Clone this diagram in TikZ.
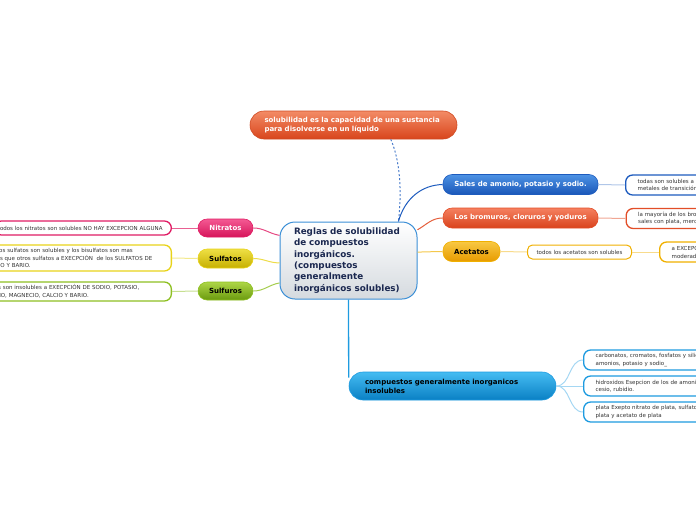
\documentclass[tikz,border=0pt]{standalone}
\usepackage{fontspec}
\setmainfont{DejaVu Sans}
\hyphenpenalty=10000
\exhyphenpenalty=10000
\definecolor{topA}{HTML}{F38B66}
\definecolor{topB}{HTML}{D8451C}
\definecolor{topD}{HTML}{D04A22}
\definecolor{cenB}{HTML}{D5DADF}
\definecolor{cenD}{HTML}{3B8FD6}
\definecolor{navy}{HTML}{1B2850}
\definecolor{blA}{HTML}{4D92E4}
\definecolor{blB}{HTML}{1A56B8}
\definecolor{blD}{HTML}{1D5BBE}
\definecolor{orA}{HTML}{F58060}
\definecolor{orB}{HTML}{D9431C}
\definecolor{orD}{HTML}{E24E28}
\definecolor{yeA}{HTML}{F8C843}
\definecolor{yeB}{HTML}{E79B00}
\definecolor{yeD}{HTML}{F0B000}
\definecolor{piA}{HTML}{F45A93}
\definecolor{piB}{HTML}{D6145A}
\definecolor{piD}{HTML}{E01C64}
\definecolor{suA}{HTML}{EEDF45}
\definecolor{suB}{HTML}{C7B000}
\definecolor{suD}{HTML}{E8D31A}
\definecolor{grA}{HTML}{AED647}
\definecolor{grB}{HTML}{6A9A0E}
\definecolor{grD}{HTML}{8EC022}
\definecolor{lbA}{HTML}{45BCF2}
\definecolor{lbB}{HTML}{0A80C4}
\definecolor{lbD}{HTML}{1E9BE0}
\definecolor{txtgray}{HTML}{333333}
\tikzset{
  branch/.style={rounded corners=9pt, font=\fontsize{7}{8.5}\selectfont\bfseries,
    inner sep=0pt, align=center, line width=0.6pt, minimum height=20pt},
  leaf/.style={draw, line width=1.3pt, fill=white, rounded corners=7pt,
    font=\fontsize{5.5}{7.5}\selectfont, text=txtgray, align=left, inner ysep=0pt},
  cn/.style={line width=1pt},
}
\begin{document}
\begin{tikzpicture}[x=1pt,y=-1pt]
\useasboundingbox (0,0) rectangle (696,520);
\clip (0,0) rectangle (696,520);

% top definition
\node[branch, top color=topA, bottom color=topB, draw=topD, rounded corners=14pt,
  minimum width=207pt, minimum height=28pt, text width=178pt, align=left, text=white]
  (def) at (353.5,125) {solubilidad es la capacidad de una sustancia\\para disolverse en un líquido};

% central
\node[draw=cenD, line width=1pt, top color=white, bottom color=cenB, rounded corners=15pt,
  minimum width=137pt, minimum height=77pt, text width=109pt, align=left,
  font=\fontsize{8.8}{11.4}\selectfont\bfseries, text=navy, inner sep=0pt]
  (main) at (348.5,260.5) {Reglas de solubilidad\\de compuestos\\inorgánicos.\\(compuestos\\generalmente\\inorgánicos solubles)};

% right branches
\node[branch, top color=blA, bottom color=blB, draw=blD, minimum width=155pt, text=white]
  (sales) at (520.5,184.5) {Sales de amonio, potasio y sodio.};
\node[branch, top color=orA, bottom color=orB, draw=orD, minimum width=155pt, text=white]
  (brom) at (520.5,218) {Los bromuros, cloruros y yoduros};
\node[branch, top color=yeA, bottom color=yeB, draw=yeD, minimum width=57pt, text=black]
  (acet) at (471.5,251.5) {Acetatos};

\node[leaf, draw=blD, anchor=west, minimum height=20pt, text width=110pt, inner xsep=12pt]
  (salesR) at (625,185) {todas son solubles a\\metales de transición};
\node[leaf, draw=orD, anchor=west, minimum height=20pt, text width=110pt, inner xsep=12pt]
  (bromR) at (625.5,218.5) {la mayoría de los bromuros\\sales con plata, mercurio};
\node[leaf, draw=yeD, line width=1pt, rounded corners=5pt, minimum width=104pt, minimum height=14pt, align=center]
  (acetM) at (579.5,252) {todos los acetatos son solubles};
\node[leaf, draw=yeD, anchor=west, minimum height=20pt, text width=80pt, inner xsep=12pt]
  (acetR) at (659,252) {a EXCEPCIÓN\\moderadamente};

% left branches
\node[branch, top color=piA, bottom color=piB, draw=piD, minimum width=55pt, minimum height=18pt, text=white]
  (nit) at (225.5,228) {Nitratos};
\node[branch, top color=suA, bottom color=suB, draw=suD, minimum width=55pt, minimum height=19pt, text=black]
  (sulf) at (225.5,258.5) {Sulfatos};
\node[branch, top color=grA, bottom color=grB, draw=grD, minimum width=55pt, minimum height=18pt, text=black]
  (sulfu) at (225.5,291) {Sulfuros};

\node[leaf, draw=piD, anchor=east, minimum height=14pt, text width=170pt, inner xsep=3.5pt]
  (nitL) at (172,228) {todos los nitratos son solubles NO HAY EXCEPCION ALGUNA};
\node[leaf, draw=suD, anchor=east, minimum height=26pt, text width=187pt, inner xsep=4pt]
  (sulfL) at (172,258) {Todos los sulfatos son solubles y los bisulfatos son mas\\solubles que otros sulfatos a EXECPCIÓN\ \ de los SULFATOS DE\\\hspace*{4pt}CALCIO Y BARIO.};
\node[leaf, draw=grD, anchor=east, minimum height=19pt, text width=199pt, inner xsep=4pt]
  (sulfuL) at (172,291.5) {Los sulfuros son insolubles a EXECPCIÓN DE SODIO, POTASIO,\\\hspace*{4.5pt}ESTRONCIO, MAGNECIO, CALCIO Y BARIO.};

% insolubles
\node[branch, top color=lbA, bottom color=lbB, draw=lbD, rounded corners=14pt,
  minimum width=207pt, minimum height=28pt, text width=175pt, align=left, text=black, font=\fontsize{7}{9}\selectfont\bfseries]
  (insol) at (452.5,386) {compuestos generalmente inorganicos\\insolubles};
\node[leaf, draw=lbD, anchor=west, minimum height=20pt, text width=120pt, inner xsep=12pt]
  (ins1) at (583,360) {carbonatos, cromatos, fosfatos y silicatos\\amonios, potasio y sodio\_};
\node[leaf, draw=lbD, anchor=west, minimum height=20pt, text width=120pt, inner xsep=12pt]
  (ins2) at (583,386) {hidroxidos Esepcion de los de amonio\\cesio, rubidio.};
\node[leaf, draw=lbD, anchor=west, minimum height=20pt, text width=120pt, inner xsep=12pt]
  (ins3) at (583,412) {plata Exepto nitrato de plata, sulfato\\plata y acetato de plata};

% connectors
\draw[cn, color=blD!80, dashed, dash pattern=on 2pt off 2pt] (def.-21) .. controls (402,165) and (401,200) .. (main.38);
\draw[cn, color=blD] (main.38) .. controls (405,198) and (422,185) .. (sales.west);
\draw[cn, color=orD!90] (main.24) to[out=30,in=180] (brom.west);
\draw[cn, color=yeD!70] (main.7) to[out=0,in=180] (acet.west);
\draw[cn, color=blD!35] (sales.east) -- (salesR.west);
\draw[cn, color=orD!50] (brom.east) -- (bromR.west);
\draw[cn, color=yeD!45] (acet.east) -- (acetM.west);
\draw[cn, color=yeD!45] (acetM.east) -- (acetR.west);

\draw[cn, color=piD!80] (nit.east) to[out=0,in=170] (main.160);
\draw[cn, color=suD!80] (sulf.east) to[out=0,in=180] (main.182);
\draw[cn, color=grD!80] (sulfu.east) to[out=0,in=190] (main.198);
\draw[cn, color=piD!70] (nit.west) -- (nitL.east);
\draw[cn, color=suD!50] (sulf.west) -- (sulfL.east);
\draw[cn, color=grD!50] (sulfu.west) -- (sulfuL.east);

\draw[line width=1.3pt, color=lbD] (main.south) -- ([yshift=-6pt]insol.north west);
\draw[cn, color=lbD!40] (insol.east) to[out=0,in=180] (ins1.west);
\draw[cn, color=lbD!40] (insol.east) -- (ins2.west);
\draw[cn, color=lbD!40] (insol.east) to[out=0,in=180] (ins3.west);
\end{tikzpicture}
\end{document}
